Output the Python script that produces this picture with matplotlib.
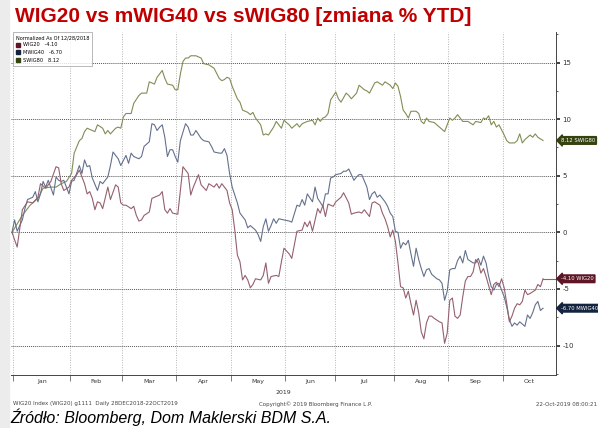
import matplotlib.pyplot as plt
from matplotlib.patches import Patch, Rectangle
from matplotlib.ticker import FixedLocator, MultipleLocator, NullFormatter

plt.rcParams['axes.unicode_minus'] = False

# x = trading day since 28DEC2018, y = % change (normalized)
wig20_days = [0, 2, 4, 6, 8, 10, 11, 13, 15, 17, 18, 19, 20, 22, 23, 25, 26, 28, 29, 30,
              31, 32, 33, 34, 35, 37, 38, 40, 41, 42, 43, 44, 46, 47, 48, 49, 50, 51, 53, 54,
              55, 57, 58, 59, 60, 61, 62, 64, 65, 66, 68, 69, 70, 72, 73, 75, 76, 78, 79, 80,
              81, 83, 84, 85, 86, 87, 88, 89, 90, 91, 92, 93, 94, 96, 97, 98, 99, 100, 102, 103,
              104, 105, 107, 108, 110, 112, 113, 114, 115, 116, 118, 119, 120, 121, 122, 124, 125, 127, 128, 130,
              131, 132, 134, 135, 136, 138, 139, 140, 142, 143, 144, 145, 146, 147, 148, 149, 150, 151, 152, 153,
              154, 155, 156, 157, 158, 159, 160, 161, 162, 163, 165, 166, 167, 168, 169, 170, 171, 172, 173, 174,
              175, 176, 177, 178, 179, 180, 181, 182, 183, 185, 186, 187, 188, 189, 190, 191, 192, 193, 194, 195,
              196, 197, 198, 199, 200, 202, 203, 204, 205]
wig20_vals = [0.0, -1.3, 2.0, 2.7, 2.6, 3.1, 4.3, 3.9, 4.5, 5.8, 5.7, 4.3, 3.7, 4.0, 4.6, 5.1, 5.5, 4.3, 3.4, 3.6,
              3.0, 2.0, 2.7, 2.6, 2.1, 4.0, 2.9, 4.2, 4.0, 2.6, 2.4, 2.4, 2.1, 2.3, 1.5, 1.0, 1.1, 1.5, 1.8, 3.0,
              3.1, 3.3, 3.6, 2.0, 1.7, 2.1, 1.7, 1.6, 3.7, 5.8, 5.2, 3.3, 4.0, 5.1, 4.2, 3.7, 4.3, 4.0, 4.3, 3.9,
              4.3, 3.7, 2.6, 2.0, 0.2, -2.0, -2.6, -4.2, -3.8, -4.2, -4.9, -4.6, -4.1, -4.2, -3.8, -2.7, -4.5, -3.9, -3.8, -3.9,
              -2.6, -1.4, -1.9, -2.3, 0.1, 0.2, 0.9, 0.5, 1.0, 0.1, 2.1, 1.7, 2.4, 1.4, 2.5, 2.3, 2.7, 3.1, 3.5, 2.6,
              1.6, 1.7, 1.8, 1.7, 2.0, 1.4, 2.6, 2.7, 2.4, 1.7, 1.2, 0.5, -0.4, 0.2, -0.8, -2.7, -4.8, -4.9, -5.8, -5.2,
              -6.3, -7.3, -6.0, -7.1, -8.8, -9.4, -8.0, -7.4, -7.4, -7.6, -7.9, -8.0, -9.8, -8.9, -6.0, -5.8, -7.4, -7.6, -7.3, -5.7,
              -4.3, -3.9, -3.9, -3.5, -2.4, -2.7, -3.6, -3.2, -3.9, -5.5, -4.6, -4.4, -4.8, -4.1, -4.9, -6.3, -7.9, -7.4, -6.7, -6.3,
              -6.4, -6.1, -5.1, -5.5, -5.4, -5.1, -4.6, -4.8, -4.1]

mwig40_days = [0, 1, 2, 4, 5, 6, 8, 9, 10, 11, 12, 13, 14, 16, 17, 18, 19, 20, 22, 23,
               24, 26, 27, 28, 29, 30, 31, 33, 34, 35, 37, 38, 39, 41, 42, 44, 45, 46, 47, 49,
               50, 51, 53, 54, 55, 56, 57, 58, 59, 60, 61, 62, 63, 64, 65, 67, 68, 69, 70, 71,
               73, 74, 76, 77, 78, 80, 81, 82, 83, 84, 85, 87, 88, 89, 90, 91, 92, 94, 95, 96,
               97, 98, 99, 100, 101, 102, 103, 105, 107, 108, 110, 111, 112, 113, 114, 116, 117, 118, 120, 121,
               122, 123, 124, 125, 127, 128, 129, 130, 132, 133, 134, 135, 137, 138, 139, 140, 141, 142, 144, 145,
               146, 147, 148, 149, 150, 151, 152, 153, 154, 155, 156, 157, 158, 159, 160, 161, 162, 164, 165, 166,
               167, 168, 169, 170, 171, 172, 173, 174, 175, 176, 178, 179, 180, 181, 182, 183, 184, 185, 186, 187,
               188, 189, 190, 191, 192, 193, 194, 195, 196, 197, 198, 199, 200, 201, 202, 203, 204, 205]
mwig40_vals = [0.0, 1.1, 0.1, 1.1, 2.1, 2.9, 3.1, 3.6, 2.7, 3.4, 4.5, 4.0, 4.6, 3.3, 4.9, 4.6, 4.5, 4.6, 3.4, 4.5,
               4.6, 5.9, 5.2, 6.4, 5.8, 5.9, 4.8, 3.7, 4.5, 4.3, 4.9, 5.9, 7.1, 6.5, 5.9, 6.8, 6.1, 7.0, 6.7, 6.5,
               6.7, 7.6, 8.0, 9.6, 9.5, 9.0, 9.3, 9.5, 8.4, 6.7, 7.3, 7.3, 6.7, 6.2, 8.1, 9.6, 9.3, 8.6, 8.6, 9.0,
               8.3, 8.1, 8.0, 7.6, 7.1, 7.0, 7.0, 7.4, 6.8, 5.2, 4.0, 2.6, 1.7, 1.4, 1.1, 0.4, 0.6, 0.2, -0.2, -0.8,
               0.5, 1.2, 0.1, 0.6, 1.2, 0.8, 1.2, 1.1, 1.0, 0.9, 2.4, 2.3, 2.9, 2.4, 3.4, 2.7, 4.0, 3.0, 2.3, 3.4,
               3.4, 4.8, 4.9, 5.1, 5.2, 5.4, 5.4, 5.6, 4.6, 4.9, 5.1, 5.1, 4.0, 2.9, 3.4, 3.6, 3.1, 3.3, 2.7, 2.3,
               1.7, 1.4, 0.1, 0.0, -1.4, -0.9, -1.1, -0.7, -1.9, -3.0, -1.4, -2.4, -3.2, -3.9, -3.3, -3.2, -3.7, -4.1, -4.2, -4.5,
               -6.0, -5.2, -3.3, -3.2, -3.2, -2.5, -2.1, -2.7, -1.6, -2.4, -2.7, -2.7, -2.3, -2.9, -2.1, -2.7, -3.9, -4.8, -5.1, -4.6,
               -4.5, -5.1, -5.7, -6.6, -7.7, -8.3, -8.0, -8.2, -7.9, -8.1, -8.3, -7.3, -7.6, -7.1, -6.4, -6.1, -6.9, -6.7]

swig80_days = [0, 4, 7, 10, 12, 15, 17, 19, 21, 23, 24, 26, 27, 28, 29, 31, 32, 33, 35, 36,
               37, 38, 40, 41, 42, 43, 44, 46, 47, 49, 50, 52, 53, 55, 56, 58, 59, 60, 62, 63,
               64, 65, 66, 67, 68, 69, 71, 73, 74, 76, 78, 80, 81, 82, 83, 84, 85, 87, 88, 89,
               91, 92, 93, 94, 96, 97, 98, 99, 101, 102, 103, 104, 105, 107, 108, 110, 111, 112, 114, 116,
               117, 118, 119, 120, 121, 122, 123, 125, 126, 127, 129, 130, 131, 133, 134, 136, 137, 138, 140, 141,
               143, 144, 146, 147, 148, 149, 150, 151, 152, 153, 154, 156, 157, 158, 159, 160, 161, 163, 164, 165,
               167, 168, 169, 170, 171, 172, 173, 174, 176, 178, 179, 181, 182, 183, 184, 185, 186, 187, 188, 190,
               191, 192, 194, 195, 196, 197, 198, 200, 201, 202, 203, 205]
swig80_vals = [0.0, 1.5, 2.4, 3.0, 3.9, 4.0, 4.0, 4.3, 4.5, 5.2, 7.0, 8.1, 8.3, 8.9, 9.2, 9.0, 8.9, 9.5, 9.2, 8.7,
               9.0, 8.7, 9.2, 9.3, 9.2, 10.2, 10.5, 10.5, 11.4, 12.1, 12.3, 12.3, 13.3, 13.1, 13.7, 14.3, 13.6, 13.1, 13.0, 12.6,
               12.6, 14.0, 15.1, 15.4, 15.4, 15.6, 15.6, 15.4, 14.9, 14.8, 14.5, 13.6, 13.4, 13.5, 13.7, 13.6, 12.9, 11.8, 11.5, 10.8,
               10.6, 10.4, 10.6, 10.1, 9.5, 8.6, 8.7, 8.6, 9.3, 9.8, 9.5, 9.2, 9.9, 9.5, 9.2, 9.6, 9.3, 9.6, 9.8, 9.9,
               9.5, 10.1, 9.8, 10.1, 10.2, 10.5, 11.7, 12.4, 11.8, 11.5, 12.3, 12.1, 11.8, 12.3, 13.0, 12.6, 12.5, 12.3, 13.2, 13.3,
               13.0, 13.3, 13.0, 12.7, 13.2, 12.9, 12.0, 10.8, 10.5, 10.1, 10.7, 10.7, 10.5, 9.8, 9.6, 10.1, 9.8, 9.7, 9.5, 9.3,
               8.9, 9.5, 10.1, 9.9, 10.1, 10.4, 10.1, 9.8, 9.8, 9.5, 9.8, 9.7, 10.1, 10.0, 10.3, 9.5, 9.8, 9.3, 9.5, 8.6,
               8.1, 7.9, 7.9, 8.1, 8.7, 7.9, 8.2, 8.6, 8.4, 8.7, 8.4, 8.12]

month_names = ['Jan', 'Feb', 'Mar', 'Apr', 'May', 'Jun', 'Jul', 'Aug', 'Sep', 'Oct']
month_first_day = [1, 23, 43, 64, 85, 106, 125, 148, 169, 190]

names = ['WIG20', 'MWIG40', 'SWIG80']
last_vals = [-4.10, -6.70, 8.12]
line_colors = ['#94606c', '#64718c', '#7f8e55']
box_colors = ['#5e1526', '#14243f', '#34430f']

x_min, x_max = -0.5, 210
y_min, y_max = -12.6, 17.7

W, H = 598, 428
fig = plt.figure(figsize=(W / 100, H / 100), dpi=100)
fig.patches.append(Rectangle((0, 0), 9 / W, 1, transform=fig.transFigure,
                             color='#ececec', zorder=0))

ax = fig.add_axes([10.7 / W, 53 / H, 545.3 / W, 343 / H])

ax.plot(swig80_days, swig80_vals, color=line_colors[2], lw=0.8)
ax.plot(mwig40_days, mwig40_vals, color=line_colors[1], lw=0.8)
ax.plot(wig20_days, wig20_vals, color=line_colors[0], lw=0.8)
# wig20 joins its label
ax.plot([wig20_days[-1], x_max], [wig20_vals[-1]] * 2, color=line_colors[0], lw=0.8, clip_on=False)

ax.set_xlim(x_min, x_max)
ax.set_ylim(y_min, y_max)

# axes look
for s in ['left', 'top']:
    ax.spines[s].set_visible(False)
ax.spines['right'].set_color('#444444')
ax.spines['bottom'].set_color('#444444')
ax.spines['right'].set_linewidth(0.7)
ax.spines['bottom'].set_linewidth(0.7)

ax.yaxis.tick_right()
ax.yaxis.set_major_locator(MultipleLocator(5))
ax.yaxis.set_minor_locator(MultipleLocator(2.5))
ax.tick_params(axis='y', which='major', labelsize=5, length=3, width=1.2, pad=1.5,
               color='#222222', labelcolor='#333333')
ax.tick_params(axis='y', which='minor', length=1.5, width=0.6, color='#444444')
ax.grid(axis='y', which='major', linestyle=(0, (1, 1)), color='#555555', lw=0.7)

bounds = [d - 0.5 for d in month_first_day]
centers = [(a + b) / 2 for a, b in zip(bounds, bounds[1:] + [x_max])]
ax.xaxis.set_major_locator(FixedLocator(bounds))
ax.xaxis.set_major_formatter(NullFormatter())
ax.xaxis.set_minor_locator(FixedLocator(centers))
ax.set_xticklabels(month_names, minor=True)
ax.tick_params(axis='x', which='major', length=4, width=0.6, color='#666666')
ax.tick_params(axis='x', which='minor', length=0, labelsize=4.5, pad=3, labelcolor='#333333')
ax.grid(axis='x', which='major', linestyle=(0, (1, 1.5)), color='#b5b5b5', lw=0.7)
ax.set_xlabel('2019', fontsize=4.5, labelpad=3, color='#333333')

# last value tags on the right
for name, v, c in zip(names, last_vals, box_colors):
    ax.annotate(f'{v:.2f} {name}', xy=(1.0, v), xycoords=('axes fraction', 'data'),
                xytext=(3.5, 0), textcoords='offset points', ha='left', va='center',
                fontsize=3.8, color='white', annotation_clip=False,
                bbox=dict(boxstyle='larrow,pad=0.25', fc=c, ec=c))

handles = [Patch(facecolor=c, edgecolor=c, label=f'{n}   {v:.2f}')
           for n, v, c in zip(names, last_vals, box_colors)]
leg = ax.legend(handles=handles, title='Normalized As Of 12/28/2018', loc='upper left',
                bbox_to_anchor=(0.004, 1.0), borderaxespad=0, fontsize=3.6, title_fontsize=3.6,
                fancybox=False, edgecolor='#999999', handlelength=0.9, handleheight=0.9,
                handletextpad=0.5, borderpad=0.6, labelspacing=0.5)
leg._legend_box.align = 'left'
leg.get_frame().set_linewidth(0.6)

fig.text(15 / W, 1 - 17 / H, 'WIG20 vs mWIG40 vs sWIG80 [zmiana % YTD]', fontsize=15,
         fontweight='bold', color='#c00000', va='center', family='Liberation Sans')

fig.text(13 / W, 1 - 404 / H, 'WIG20 Index (WIG20) g1111  Daily 28DEC2018-22OCT2019',
         fontsize=4, color='#444444', va='center')
fig.text(316 / W, 1 - 404 / H, 'Copyright\u00a9 2019 Bloomberg Finance L.P.',
         fontsize=4, color='#444444', va='center', ha='center')
fig.text(597 / W, 1 - 404 / H, '22-Oct-2019 08:00:21',
         fontsize=4, color='#444444', va='center', ha='right')

fig.text(10 / W, 1 - 417 / H, 'Źródło: Bloomberg, Dom Maklerski BDM S.A.', fontsize=11.5,
         style='italic', va='center', family='Liberation Sans')

fig.savefig('out.png', dpi=100)
